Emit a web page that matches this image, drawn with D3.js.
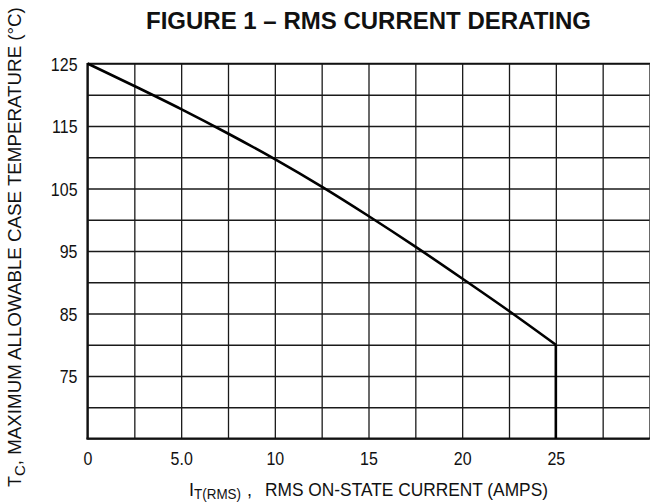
<!DOCTYPE html>
<html>
<head>
<meta charset="utf-8">
<script src="https://cdn.jsdelivr.net/npm/d3@7"></script>
<style>
  html, body { margin: 0; padding: 0; background: #fff; }
  svg { display: block; }
  text { font-family: "Liberation Sans", Arial, sans-serif; fill: #111; }
</style>
</head>
<body>
<svg id="chart" width="650" height="502"></svg>
<script>
// ---- data ----
const currentAmps = [0, 2.5, 5, 7.5, 10, 12.5, 15, 17.5, 20, 22.5, 25];
const caseTempC   = [125, 121.4, 117.7, 113.8, 109.7, 105.3, 100.6, 95.7, 90.6, 85.4, 80];
const cutoffAmps  = [25, 25];
const cutoffTempC = [80, 65];
const xTickValues = [0, 5, 10, 15, 20, 25];
const xTickLabels = ["0", "5.0", "10", "15", "20", "25"];
const yTickValues = [125, 115, 105, 95, 85, 75];
const xGridValues = d3.range(0, 30.001, 2.5);
const yGridValues = d3.range(65, 125.001, 5);
const titleText = "FIGURE 1 \u2013 RMS CURRENT DERATING";

// ---- layout ----
const svg = d3.select("#chart");
const pLeft = 87.5, pRight = 649.5, pTop = 63.5, pBottom = 438.5;
const x = d3.scaleLinear().domain([0, 30]).range([pLeft, pRight]);
const y = d3.scaleLinear().domain([65, 125]).range([pBottom, pTop]);

// grid via axes
const gx = svg.append("g").attr("transform", `translate(0,${pBottom})`)
  .call(d3.axisBottom(x).tickValues(xGridValues).tickSize(-(pBottom - pTop)).tickFormat(""));
const gy = svg.append("g").attr("transform", `translate(${pLeft},0)`)
  .call(d3.axisLeft(y).tickValues(yGridValues).tickSize(-(pRight - pLeft)).tickFormat(""));
[gx, gy].forEach(g => {
  g.select(".domain").remove();
  g.selectAll(".tick line").attr("stroke", "#1a1a1a").attr("stroke-width", 1.3);
});

// frame: thicker left & bottom
svg.append("line").attr("x1", pLeft).attr("x2", pLeft).attr("y1", pTop - 0.5).attr("y2", pBottom + 1)
  .attr("stroke", "#111").attr("stroke-width", 2.2);
svg.append("line").attr("x1", pLeft - 1).attr("x2", pRight + 0.5).attr("y1", pBottom).attr("y2", pBottom)
  .attr("stroke", "#111").attr("stroke-width", 2.2);
svg.append("line").attr("x1", pLeft).attr("x2", pRight + 0.5).attr("y1", pTop).attr("y2", pTop)
  .attr("stroke", "#111").attr("stroke-width", 1.6);

// tick labels via axes
const xLab = svg.append("g").attr("transform", `translate(0,${pBottom})`)
  .call(d3.axisBottom(x).tickValues(xTickValues).tickSize(0).tickPadding(0)
    .tickFormat((d, i) => xTickLabels[i]));
xLab.select(".domain").remove();
xLab.selectAll("text").attr("font-size", 19).attr("dy", null).attr("y", 26)
  .attr("font-family", "'Liberation Sans', Arial, sans-serif").attr("fill", "#111");

const yLab = svg.append("g").attr("transform", `translate(${pLeft},0)`)
  .call(d3.axisLeft(y).tickValues(yTickValues).tickSize(0).tickPadding(0).tickFormat(d3.format("d")));
yLab.select(".domain").remove();
yLab.selectAll("text").attr("font-size", 19).attr("x", -10).attr("dy", "0.35em")
  .attr("font-family", "'Liberation Sans', Arial, sans-serif").attr("fill", "#111");

// narrow the tick labels
[xLab, yLab].forEach(g => g.selectAll("text").each(function() {
  const w = this.getComputedTextLength();
  d3.select(this).attr("textLength", w * 0.84).attr("lengthAdjust", "spacingAndGlyphs");
}));

// curve
const pts = currentAmps.map((a, i) => [a, caseTempC[i]]);
svg.append("path").datum(pts)
  .attr("fill", "none").attr("stroke", "#000").attr("stroke-width", 2.6)
  .attr("stroke-linejoin", "round")
  .attr("d", d3.line().curve(d3.curveMonotoneX).x(d => x(d[0])).y(d => y(d[1])));
const cut = cutoffAmps.map((a, i) => [a, cutoffTempC[i]]);
svg.append("path").datum(cut)
  .attr("fill", "none").attr("stroke", "#000").attr("stroke-width", 2.6)
  .attr("d", d3.line().x(d => x(d[0])).y(d => y(d[1])));

// title
svg.append("text").attr("x", (pLeft + pRight) / 2).attr("y", 29)
  .attr("text-anchor", "middle").attr("font-weight", "bold").attr("font-size", 23)
  .attr("textLength", 445).attr("lengthAdjust", "spacingAndGlyphs")
  .text(titleText);

// x axis label
const xt = svg.append("text").attr("y", 496).attr("font-size", 18);
xt.append("tspan").attr("x", 189).text("I");
xt.append("tspan").attr("font-size", 15.5).attr("dy", 2.5).attr("textLength", 47)
  .attr("lengthAdjust", "spacingAndGlyphs").text("T(RMS)");
xt.append("tspan").attr("x", 247).attr("dy", -2.5).text(",");
xt.append("tspan").attr("x", 265).attr("textLength", 283).attr("lengthAdjust", "spacingAndGlyphs")
  .text("RMS ON-STATE CURRENT (AMPS)");

// y axis label
const yt = svg.append("text").attr("transform", "translate(21,487) rotate(-90)").attr("font-size", 18);
yt.append("tspan").attr("x", 0).text("T");
yt.append("tspan").attr("font-size", 15).attr("dy", 4).text("C");
yt.append("tspan").attr("dy", -4).attr("textLength", 458).attr("lengthAdjust", "spacingAndGlyphs")
  .text(", MAXIMUM ALLOWABLE CASE TEMPERATURE (\u00B0C)");
</script>
</body>
</html>
